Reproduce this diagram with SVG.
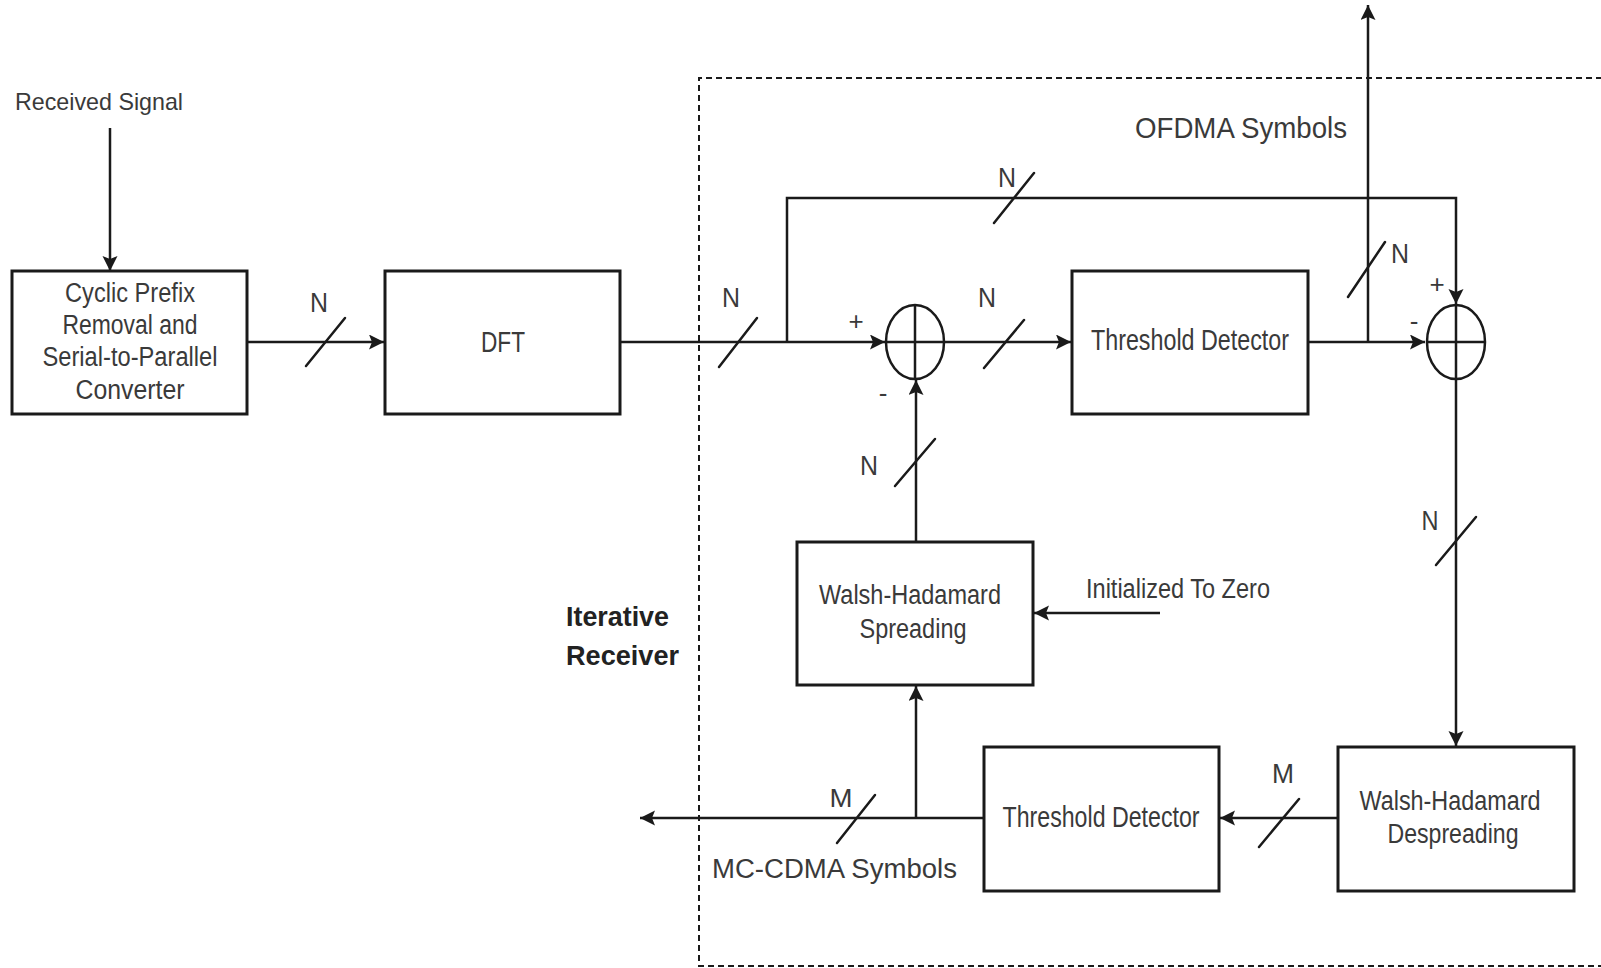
<svg xmlns="http://www.w3.org/2000/svg" width="1601" height="968" viewBox="0 0 1601 968">
<defs>
<style>
.box{fill:#fff;stroke:#1a1a1a;stroke-width:3}
.sum{fill:none;stroke:#1a1a1a;stroke-width:2.5}
.ln{fill:none;stroke:#1a1a1a;stroke-width:2.5}
.sl{fill:none;stroke:#1a1a1a;stroke-width:2.5;stroke-linecap:round}
.arr{marker-end:url(#ah)}
.dash{fill:none;stroke:#1a1a1a;stroke-width:2;stroke-dasharray:6 4}
text{font-family:"Liberation Sans",Arial,sans-serif;fill:#3a3a3a}
.c{text-anchor:middle}
.b{font-weight:bold;fill:#222}
</style>
<marker id="ah" markerUnits="userSpaceOnUse" markerWidth="16" markerHeight="16" refX="15" refY="7.5" orient="auto">
<path d="M0,0 L15,7.5 L0,15 L3,7.5 z" fill="#1a1a1a"/>
</marker>
</defs>
<rect width="1601" height="968" fill="#fff"/>

<path id="iterative-frame" class="dash" d="M1612,78 H699 V966 H1612"/>

<g id="connectors">
<path class="ln arr" d="M110,128 V271"/>
<path class="ln arr" d="M247,342 H384"/>
<path class="ln arr" d="M620,342 H885"/>
<path class="ln arr" d="M787,342 V198 H1456 V304"/>
<path class="ln arr" d="M944,342 H1071"/>
<path class="ln arr" d="M1308,342 H1425"/>
<path class="ln arr" d="M1368,342 V5"/>
<path class="ln arr" d="M1456,379 V746"/>
<path class="ln arr" d="M1338,818 H1220"/>
<path class="ln arr" d="M984,818 H640"/>
<path class="ln arr" d="M916,818 V686"/>
<path class="ln arr" d="M916,542 V380"/>
<path class="ln arr" d="M1160,613 H1034"/>
<g id="bus-slashes">
<line class="sl" x1="306" y1="366" x2="345" y2="318"/>
<line class="sl" x1="719" y1="367" x2="757" y2="318"/>
<line class="sl" x1="994" y1="223" x2="1034" y2="173"/>
<line class="sl" x1="984" y1="368" x2="1024" y2="320"/>
<line class="sl" x1="1348" y1="297" x2="1385" y2="242"/>
<line class="sl" x1="1436" y1="565" x2="1476" y2="517"/>
<line class="sl" x1="1259" y1="847" x2="1299" y2="799"/>
<line class="sl" x1="837" y1="843" x2="875" y2="795"/>
<line class="sl" x1="895" y1="486" x2="935" y2="439"/>
</g>
<g id="bus-labels">
<text class="c" x="319" y="312" font-size="28" textLength="18" lengthAdjust="spacingAndGlyphs">N</text>
<text class="c" x="731" y="307" font-size="28" textLength="18" lengthAdjust="spacingAndGlyphs">N</text>
<text class="c" x="1007" y="187" font-size="28" textLength="18" lengthAdjust="spacingAndGlyphs">N</text>
<text class="c" x="987" y="307" font-size="28" textLength="18" lengthAdjust="spacingAndGlyphs">N</text>
<text class="c" x="1400" y="263" font-size="28" textLength="18" lengthAdjust="spacingAndGlyphs">N</text>
<text class="c" x="1430" y="530" font-size="28" textLength="17" lengthAdjust="spacingAndGlyphs">N</text>
<text class="c" x="869" y="475" font-size="28" textLength="18" lengthAdjust="spacingAndGlyphs">N</text>
<text class="c" x="1283" y="783" font-size="27" textLength="22" lengthAdjust="spacingAndGlyphs">M</text>
<text class="c" x="841" y="807" font-size="26" textLength="23" lengthAdjust="spacingAndGlyphs">M</text>
</g>
<g id="signs">
<text class="c" x="856" y="330" font-size="26">+</text>
<text class="c" x="883" y="402" font-size="26">-</text>
<text class="c" x="1437" y="293" font-size="26">+</text>
<text class="c" x="1414" y="330" font-size="26">-</text>
</g>
</g>

<g id="received-signal">
<text x="15" y="110" font-size="24" textLength="168" lengthAdjust="spacingAndGlyphs">Received Signal</text>
</g>

<g id="cp-removal">
<rect class="box" x="12" y="271" width="235" height="143"/>
<text class="c" x="130" y="302" font-size="27" textLength="130" lengthAdjust="spacingAndGlyphs">Cyclic Prefix</text>
<text class="c" x="130" y="334" font-size="27" textLength="135" lengthAdjust="spacingAndGlyphs">Removal and</text>
<text class="c" x="130" y="366" font-size="27" textLength="175" lengthAdjust="spacingAndGlyphs">Serial-to-Parallel</text>
<text class="c" x="130" y="399" font-size="27" textLength="109" lengthAdjust="spacingAndGlyphs">Converter</text>
</g>

<g id="dft">
<rect class="box" x="385" y="271" width="235" height="143"/>
<text class="c" x="503" y="352" font-size="29" textLength="44" lengthAdjust="spacingAndGlyphs">DFT</text>
</g>

<g id="sum1">
<ellipse class="sum" cx="915" cy="342" rx="29" ry="37"/>
<path class="sum" d="M886,342 H944 M915,305 V379"/>
</g>

<g id="threshold-detector-1">
<rect class="box" x="1072" y="271" width="236" height="143"/>
<text class="c" x="1190" y="350" font-size="29" textLength="198" lengthAdjust="spacingAndGlyphs">Threshold Detector</text>
</g>

<g id="sum2">
<ellipse class="sum" cx="1456" cy="342" rx="29" ry="37"/>
<path class="sum" d="M1427,342 H1485 M1456,305 V379"/>
</g>

<g id="ofdma-label">
<text x="1135" y="138" font-size="30" textLength="212" lengthAdjust="spacingAndGlyphs">OFDMA Symbols</text>
</g>

<g id="wh-spreading">
<rect class="box" x="797" y="542" width="236" height="143"/>
<text class="c" x="910" y="604" font-size="27" textLength="182" lengthAdjust="spacingAndGlyphs">Walsh-Hadamard</text>
<text class="c" x="913" y="638" font-size="27" textLength="107" lengthAdjust="spacingAndGlyphs">Spreading</text>
</g>

<g id="init-label">
<text x="1086" y="598" font-size="27" textLength="184" lengthAdjust="spacingAndGlyphs">Initialized To Zero</text>
</g>

<g id="threshold-detector-2">
<rect class="box" x="984" y="747" width="235" height="144"/>
<text class="c" x="1101" y="827" font-size="29" textLength="197" lengthAdjust="spacingAndGlyphs">Threshold Detector</text>
</g>

<g id="wh-despreading">
<rect class="box" x="1338" y="747" width="236" height="144"/>
<text class="c" x="1450" y="810" font-size="27" textLength="181" lengthAdjust="spacingAndGlyphs">Walsh-Hadamard</text>
<text class="c" x="1453" y="843" font-size="27" textLength="131" lengthAdjust="spacingAndGlyphs">Despreading</text>
</g>

<g id="mccdma-label">
<text x="712" y="878" font-size="27" textLength="245" lengthAdjust="spacingAndGlyphs">MC-CDMA Symbols</text>
</g>

<g id="iterative-receiver-label">
<text class="b" x="566" y="626" font-size="28" textLength="103" lengthAdjust="spacingAndGlyphs">Iterative</text>
<text class="b" x="566" y="665" font-size="28" textLength="113" lengthAdjust="spacingAndGlyphs">Receiver</text>
</g>
</svg>
